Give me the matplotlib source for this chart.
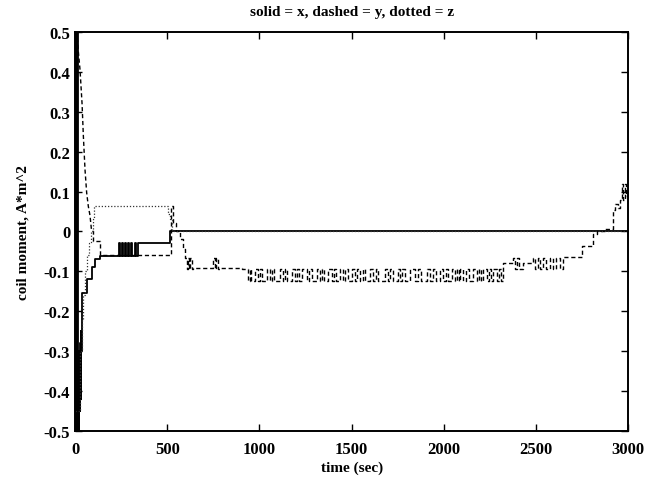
import matplotlib
matplotlib.use("Agg")
import matplotlib.pyplot as plt

# ---- coil moment histories ----
# x axis coil (solid), step-wise
x_time = [0, 2, 4, 6, 8, 10, 12, 14, 16, 18, 20, 22, 24, 26, 28, 30, 32, 34,
          36, 63, 90, 108, 136, 240, 246, 253, 259, 271, 277, 289, 295, 302,
          308, 326, 332, 343, 515, 3000]
x_vals = [0.5, -0.5, 0.5, -0.5, 0.5, -0.5, 0.5, -0.5, -0.3, -0.5, -0.35, -0.5,
          -0.3, -0.45, -0.28, -0.42, -0.25, -0.3, -0.155, -0.12, -0.09, -0.07,
          -0.062, -0.03, -0.062, -0.03, -0.062, -0.03, -0.062, -0.03, -0.062,
          -0.03, -0.062, -0.03, -0.062, -0.03, 0.0, 0.0]

# y axis coil (dashed): initial decay
y_decay_time = [0, 5, 11, 18, 27, 38, 45, 54, 63, 72, 81, 90]
y_decay_vals = [0.5, 0.5, 0.49, 0.45, 0.405, 0.32, 0.24, 0.155, 0.097, 0.063,
                0.04, 0.0]

# y axis coil, step-wise after the decay
y_time = [90, 98, 136, 520, 530, 545, 570, 585, 597, 606, 612, 618, 626, 632,
          642, 750, 758, 766, 774, 786, 904, 931]
y_vals = [0.0, -0.025, -0.06, 0.063, 0.02, -0.0, -0.02, -0.045, -0.066,
          -0.095, -0.066, -0.095, -0.066, -0.095, -0.091, -0.066, -0.095,
          -0.066, -0.095, -0.091, -0.095, -0.095]

# low excursions of the y coil between 930 s and 2330 s (start, end)
y_dips = [(939, 948), (955, 977), (993, 1005), (1015, 1042), (1058, 1070),
          (1080, 1112), (1129, 1140), (1150, 1177), (1194, 1205), (1215, 1232),
          (1259, 1270), (1285, 1313), (1329, 1340), (1350, 1373), (1394, 1405),
          (1415, 1438), (1454, 1465), (1480, 1503), (1519, 1530), (1545, 1560),
          (1575, 1600), (1617, 1630), (1645, 1682), (1698, 1710), (1725, 1753),
          (1763, 1775), (1790, 1818), (1844, 1858), (1875, 1910), (1926, 1940),
          (1955, 1980), (1997, 2010), (2025, 2046), (2062, 2070), (2080, 2089),
          (2105, 2118), (2135, 2160), (2181, 2190), (2200, 2214), (2235, 2245),
          (2255, 2268), (2290, 2300), (2310, 2323)]
y_high, y_low = -0.095, -0.125

# y coil after the dense section
y_tail_time = [2323, 2377, 2385, 2395, 2405, 2431, 2485, 2495, 2510, 2520,
               2540, 2552, 2575, 2590, 2610, 2632, 2648, 2750, 2810, 2830,
               2875, 2915, 2930, 2945, 2957, 2965, 2972, 2980, 2988, 3000]
y_tail_vals = [-0.078, -0.066, -0.095, -0.066, -0.095, -0.078, -0.066, -0.095,
               -0.066, -0.095, -0.066, -0.095, -0.066, -0.095, -0.066, -0.095,
               -0.065, -0.037, -0.007, 0.0, 0.005, 0.055, 0.07, 0.06, 0.08,
               0.12, 0.08, 0.12, 0.09, 0.12]

# z axis coil (dotted)
z_time = [0, 25, 35, 45, 55, 65, 75, 85, 95, 105, 505, 515, 525, 3000]
z_vals = [-0.45, -0.3, -0.22, -0.16, -0.1, -0.06, -0.03, 0.0, 0.03, 0.063,
          0.045, 0.03, 0.0, 0.0]

# assemble the step-wise y coil sequence
yt = list(y_time)
yv = list(y_vals)
for a, b in y_dips:
    yt += [a, b]
    yv += [y_low, y_high]
yt += y_tail_time
yv += y_tail_vals

plt.rcParams["font.family"] = ["Liberation Serif", "DejaVu Serif"]
fig = plt.figure(figsize=(6.47, 4.89), dpi=100)
ax = fig.add_axes([0.116, 0.1166, 0.855, 0.816])

dash = (0, (3, 2))
ax.plot(x_time, x_vals, drawstyle="steps-post", color="black", lw=1.3)
ax.plot(y_decay_time, y_decay_vals, color="black", lw=1.0, linestyle=dash)
ax.plot(yt, yv, drawstyle="steps-post", color="black", lw=1.0, linestyle=dash)
ax.plot(z_time, z_vals, drawstyle="steps-post", color="#333333", lw=0.9,
        linestyle=(0, (1, 1.5)))

ax.set_xlim(0, 3000)
ax.set_ylim(-0.5, 0.5)
ax.set_xticks([0, 500, 1000, 1500, 2000, 2500, 3000])
ax.set_yticks([-0.5, -0.4, -0.3, -0.2, -0.1, 0, 0.1, 0.2, 0.3, 0.4, 0.5])
ax.set_yticklabels(["-0.5", "-0.4", "-0.3", "-0.2", "-0.1", "0", "0.1", "0.2",
                    "0.3", "0.4", "0.5"])
ax.tick_params(direction="in", length=5, width=1, top=True, right=True,
               labelsize=12)
ax.tick_params(axis="x", pad=7)
for lab in ax.get_xticklabels() + ax.get_yticklabels():
    lab.set_fontweight("bold")
for s in ax.spines.values():
    s.set_linewidth(1.4)

ax.set_title("solid = x, dashed = y, dotted = z", fontsize=11,
             fontweight="bold", pad=12)
ax.set_xlabel("time (sec)", fontsize=11, fontweight="bold", labelpad=3)
ax.set_ylabel("coil moment, A*m^2", fontsize=11, fontweight="bold",
              labelpad=10)

fig.savefig("out.png", dpi=100)
